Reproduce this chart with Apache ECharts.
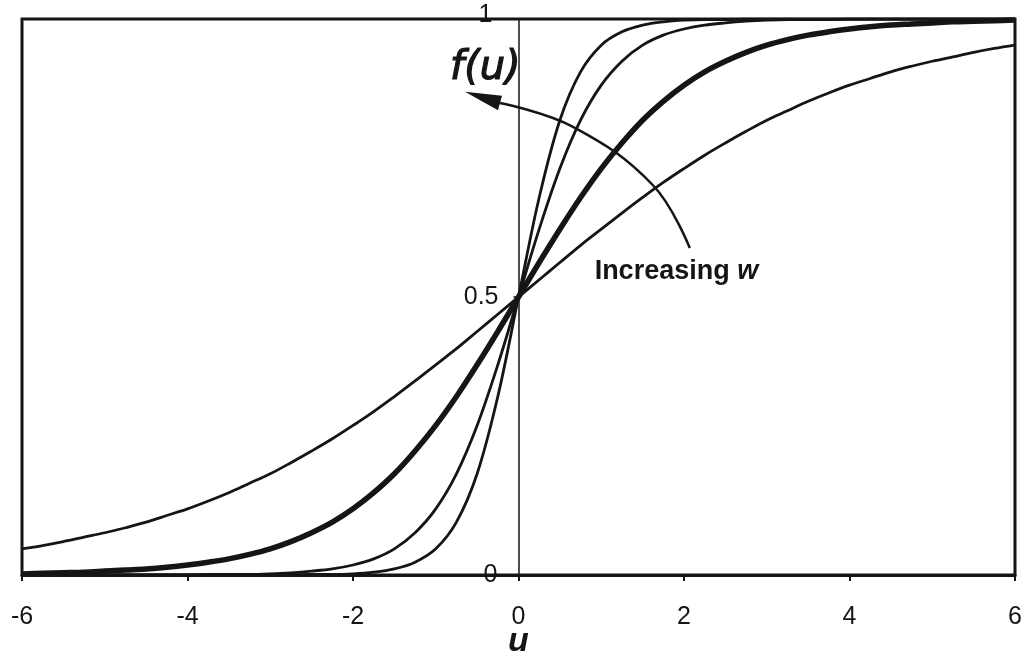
<!DOCTYPE html>
<html>
<head>
<meta charset="utf-8">
<script src="https://cdn.jsdelivr.net/npm/echarts@6/dist/echarts.min.js"></script>
<style>
html, body { margin: 0; background: #fff; }
#chart { width: 1030px; height: 654px; }
</style>
</head>
<body>
<div id="chart"></div>
<script>
// u values along the x axis
var uValues = [-6, -5.75, -5.5, -5.25, -5, -4.75, -4.5, -4.25, -4, -3.75, -3.5, -3.25,
    -3, -2.75, -2.5, -2.25, -2, -1.75, -1.5, -1.25, -1, -0.75, -0.5, -0.25, 0,
    0.25, 0.5, 0.75, 1, 1.25, 1.5, 1.75, 2, 2.25, 2.5, 2.75, 3, 3.25, 3.5, 3.75,
    4, 4.25, 4.5, 4.75, 5, 5.25, 5.5, 5.75, 6];

// f(u), flattest to steepest
var curveA = [0.047, 0.053, 0.060, 0.068, 0.076, 0.085, 0.095, 0.107, 0.119, 0.133, 0.148, 0.165,
    0.182, 0.202, 0.223, 0.245, 0.269, 0.294, 0.321, 0.349, 0.378, 0.407, 0.438, 0.469, 0.5,
    0.531, 0.562, 0.593, 0.622, 0.651, 0.679, 0.706, 0.731, 0.755, 0.777, 0.798, 0.818, 0.835, 0.852, 0.867,
    0.881, 0.893, 0.905, 0.915, 0.924, 0.932, 0.940, 0.947, 0.953];
var curveB = [0.002, 0.003, 0.004, 0.005, 0.007, 0.009, 0.011, 0.014, 0.018, 0.023, 0.029, 0.037,
    0.047, 0.060, 0.076, 0.095, 0.119, 0.148, 0.182, 0.223, 0.269, 0.321, 0.378, 0.438, 0.5,
    0.562, 0.622, 0.679, 0.731, 0.777, 0.818, 0.852, 0.881, 0.905, 0.924, 0.940, 0.953, 0.963, 0.971, 0.977,
    0.982, 0.986, 0.989, 0.991, 0.993, 0.995, 0.996, 0.997, 0.998];
var curveC = [0, 0, 0, 0, 0, 0, 0, 0, 0, 0.001, 0.001, 0.001,
    0.002, 0.004, 0.007, 0.011, 0.018, 0.029, 0.047, 0.076, 0.119, 0.182, 0.269, 0.378, 0.5,
    0.622, 0.731, 0.818, 0.881, 0.924, 0.953, 0.971, 0.982, 0.989, 0.993, 0.996, 0.998, 0.999, 0.999, 0.999,
    1, 1, 1, 1, 1, 1, 1, 1, 1];
var curveD = [0, 0, 0, 0, 0, 0, 0, 0, 0, 0, 0, 0,
    0, 0, 0.001, 0.001, 0.002, 0.005, 0.011, 0.023, 0.047, 0.095, 0.182, 0.321, 0.5,
    0.679, 0.818, 0.905, 0.953, 0.977, 0.989, 0.995, 0.998, 0.999, 0.999, 1, 1, 1, 1, 1,
    1, 1, 1, 1, 1, 1, 1, 1, 1];

var xTicks = [-6, -4, -2, 0, 2, 4, 6];
var yTickValues = [0, 0.5, 1];
var yTickLabels = ['0', '0.5', '1'];

function pairs(ys) {
    return uValues.map(function (u, i) { return [u, ys[i]]; });
}

function curve(ys, width) {
    return {
        type: 'line',
        data: pairs(ys),
        showSymbol: false,
        smooth: 0.35,
        silent: true,
        lineStyle: { color: '#151515', width: width },
        z: 3
    };
}

var chart = echarts.init(document.getElementById('chart'));
chart.setOption({
    backgroundColor: '#fff',
    animation: false,
    grid: {
        left: 22, right: 15, top: 19, bottom: 79,
        containLabel: false,
        outerBoundsMode: 'none',
        show: true,
        borderColor: '#151515',
        borderWidth: 3
    },
    xAxis: {
        type: 'value',
        min: -6, max: 6, interval: 2,
        axisLine: { onZero: false, lineStyle: { color: '#151515', width: 3 } },
        axisTick: { show: true, length: 6, lineStyle: { color: '#151515', width: 2 } },
        axisLabel: {
            margin: 30,
            fontFamily: 'Liberation Sans', fontSize: 25, color: '#151515',
            formatter: function (v) { return xTicks.indexOf(v) >= 0 ? String(v) : ''; }
        },
        splitLine: { show: false }
    },
    yAxis: {
        type: 'value',
        min: 0, max: 1, interval: 0.5,
        axisLine: { onZero: true, lineStyle: { color: '#151515', width: 1.5 } },
        axisTick: { show: false },
        axisLabel: { show: false },
        splitLine: { show: false }
    },
    series: [
        curve(curveA, 2.8),
        curve(curveB, 5.5),
        curve(curveC, 2.8),
        curve(curveD, 2.8)
    ]
});

// annotations placed in data coordinates
function px(u, f) { return chart.convertToPixel({ gridIndex: 0 }, [u, f]); }
var arcPts = [[2.07, 0.588], [1.625, 0.701], [0.659, 0.806], [-0.224, 0.849]].map(function (p) { return px(p[0], p[1]); });
var head = [[-0.647, 0.869], [-0.199, 0.862], [-0.248, 0.836]].map(function (p) { return px(p[0], p[1]); });
var labelF = px(-0.4, 0.91);
var labelW = px(0.92, 0.545);
var origin = px(0, 0);

var graphics = [
    {
        type: 'polyline',
        shape: { points: arcPts, smooth: 0.4 },
        style: { stroke: '#151515', lineWidth: 2.5, fill: null },
        z: 10
    },
    {
        type: 'polygon',
        shape: { points: head },
        style: { fill: '#151515' },
        z: 10
    },
    {
        type: 'text',
        x: labelF[0], y: labelF[1],
        style: {
            text: 'f(u)',
            fontFamily: 'DejaVu Sans', fontStyle: 'italic', fontSize: 40,
            fill: '#151515', stroke: '#151515', lineWidth: 1.2,
            align: 'center', verticalAlign: 'middle'
        },
        z: 10
    },
    {
        type: 'text',
        x: labelW[0], y: labelW[1],
        style: {
            text: '{a|Increasing }{b|w}',
            rich: {
                a: { fontFamily: 'Liberation Sans', fontWeight: 'bold', fontSize: 27, fill: '#151515' },
                b: { fontFamily: 'Liberation Sans', fontWeight: 'bold', fontStyle: 'italic', fontSize: 27, fill: '#151515' }
            },
            align: 'left', verticalAlign: 'middle'
        },
        z: 10
    },
    {
        // x axis title
        type: 'text',
        x: origin[0], y: origin[1] + 67,
        style: {
            text: 'u',
            fontFamily: 'Liberation Sans', fontWeight: 'bold', fontStyle: 'italic', fontSize: 34,
            fill: '#151515',
            align: 'center', verticalAlign: 'middle'
        },
        z: 10
    }
];

// y tick labels and small ticks beside the u = 0 line
var labelShift = [21, 20, 26];
yTickValues.forEach(function (v, i) {
    var p = px(0, v);
    graphics.push({
        type: 'text',
        x: p[0] - labelShift[i], y: p[1] - (v === 1 ? 4 : 0),
        style: {
            text: yTickLabels[i],
            fontFamily: 'Liberation Sans', fontSize: 25, fill: '#151515',
            align: 'right', verticalAlign: 'middle'
        },
        z: 10
    });
    graphics.push({
        type: 'line',
        shape: { x1: p[0] - 5, y1: p[1], x2: p[0], y2: p[1] },
        style: { stroke: '#151515', lineWidth: 1.5 },
        z: 10
    });
});

chart.setOption({ graphic: graphics });
</script>
</body>
</html>
